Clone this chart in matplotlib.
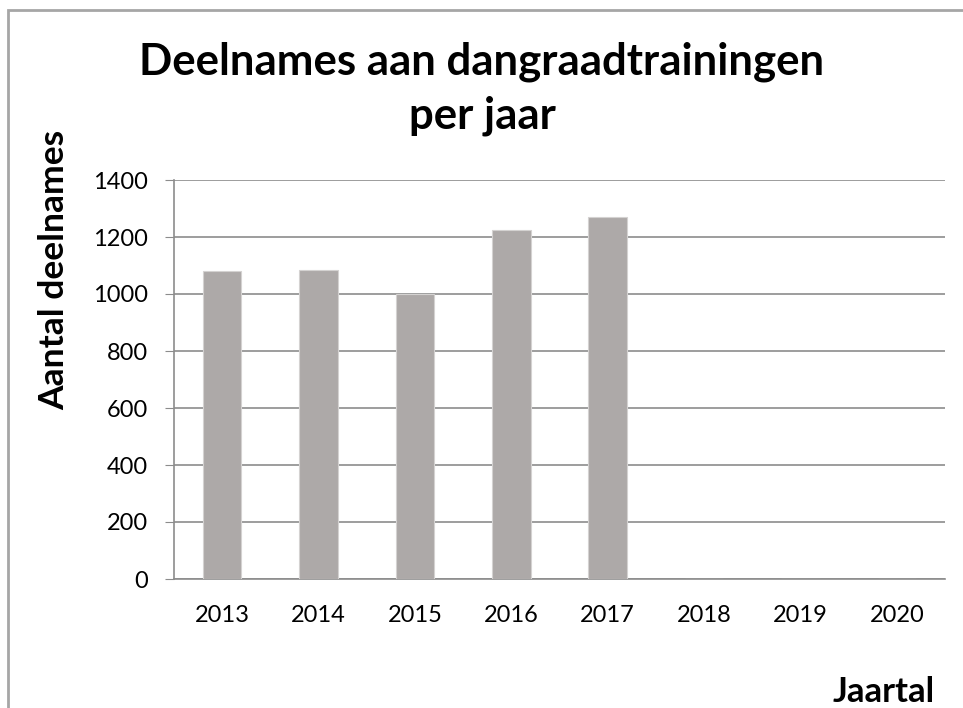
import numpy as np
import matplotlib
matplotlib.use("Agg")
from matplotlib import pyplot as plt
from matplotlib.patches import Rectangle

jaren = ["2013", "2014", "2015", "2016", "2017", "2018", "2019", "2020"]
deelnames = [1080, 1085, 1000, 1225, 1270, 0, 0, 0]
y_ticks = [0, 200, 400, 600, 800, 1000, 1200, 1400]

plt.rcParams['font.family'] = ['Lato', 'DejaVu Sans']

W, H = 963, 708
fig = plt.figure(figsize=(W / 100, H / 100), dpi=100)

# kader rond de grafiek (rechts en onder valt buiten beeld)
fig.patches.append(Rectangle((8 / W, -0.1), 1.1, 1.1 - 10 / H, transform=fig.transFigure,
                             fill=False, edgecolor='#a6a6a6', linewidth=2))

ax = fig.add_axes([174 / W, 1 - 579 / H, (945 - 174) / W, (579 - 180) / H])
x = np.arange(len(jaren))
ax.bar(x, deelnames, width=0.4, color='#ada9a8', edgecolor='#d4d2d1',
       linewidth=0.8, zorder=3)

ax.set_xlim(-0.5, len(jaren) - 0.5)
ax.set_ylim(0, 1400)
ax.set_yticks(y_ticks)
ax.set_xticks(x)
ax.set_xticklabels(jaren)
ax.yaxis.grid(True, color='#8c8c8c', linewidth=1.2)
ax.set_axisbelow(True)
for s in ['top', 'right']:
    ax.spines[s].set_visible(False)
ax.spines['left'].set_color('#8c8c8c')
ax.spines['bottom'].set_color('#8c8c8c')
ax.spines['left'].set_linewidth(1.2)
ax.spines['bottom'].set_linewidth(1.2)
ax.tick_params(axis='y', length=6.5, color='#8c8c8c', labelsize=17, pad=12)
ax.tick_params(axis='x', length=0, labelsize=17, pad=19)

fig.text(482 / W, 1 - 75 / H, "Deelnames aan dangraadtrainingen", ha='center',
         va='baseline', fontsize=31.5, fontweight='bold')
fig.text(482 / W, 1 - 128 / H, "per jaar", ha='center', va='baseline',
         fontsize=31.5, fontweight='bold')
fig.text(54 / W, 1 - 270 / H, "Aantal deelnames", rotation=90, ha='center',
         va='center', fontsize=25.5, fontweight='bold')
fig.text(884 / W, 1 - 702 / H, "Jaartal", ha='center', va='baseline',
         fontsize=25, fontweight='bold')

fig.savefig("out.png", dpi=100)
